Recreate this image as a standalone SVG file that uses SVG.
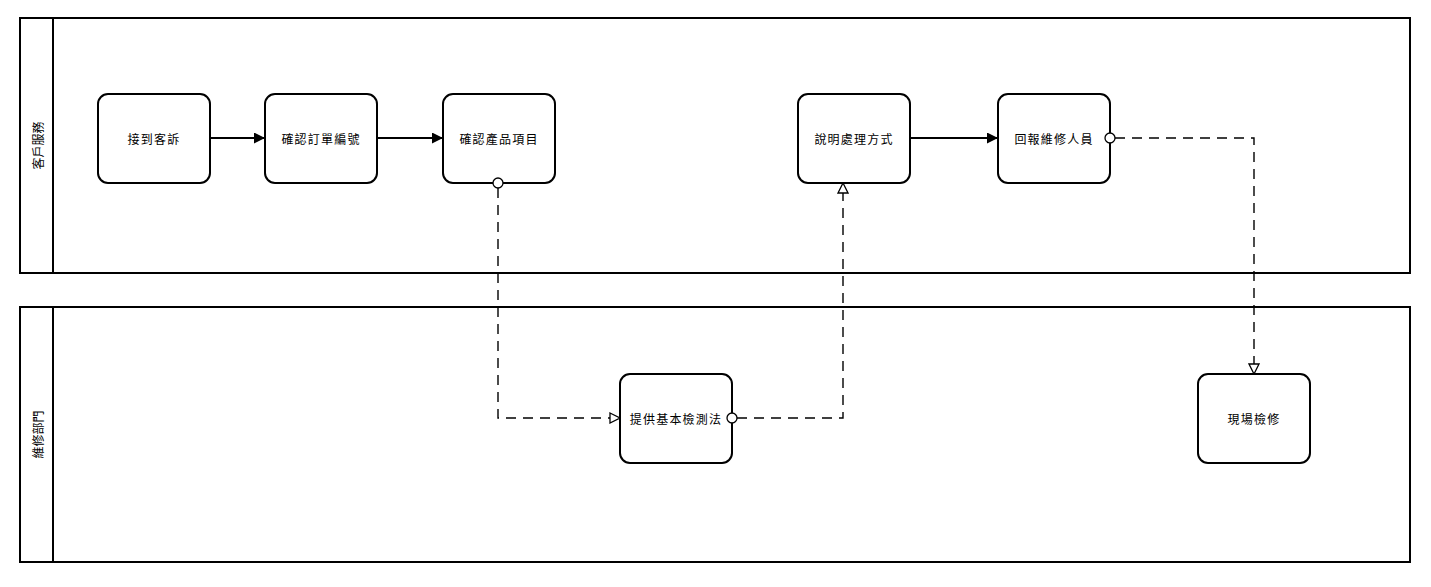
<svg xmlns="http://www.w3.org/2000/svg" width="1431" height="587" viewBox="0 0 1431 587">
<defs>
<style>
.pool{fill:#fff;stroke:#000;stroke-width:2}
.task{fill:#fff;stroke:#000;stroke-width:2}
.lbl{font-family:"Noto Sans CJK TC","Noto Sans CJK SC",sans-serif;font-size:12px;fill:#000;text-anchor:middle;dominant-baseline:central}
.tl{letter-spacing:1.2px}
.seq{fill:none;stroke:#000;stroke-width:2}
.msg{fill:none;stroke:#000;stroke-width:1.4;stroke-dasharray:10,7}
.dot{fill:#fff;stroke:#000;stroke-width:1.3}
</style>
<marker id="fill" viewBox="0 0 10 10" refX="10" refY="5" markerWidth="11" markerHeight="11" markerUnits="userSpaceOnUse" orient="auto">
<path d="M0,0 L10,5 L0,10 Z" fill="#000"/>
</marker>
<marker id="open" viewBox="0 0 12 12" refX="11" refY="6" markerWidth="12" markerHeight="12" markerUnits="userSpaceOnUse" orient="auto">
<path d="M1,1 L11,6 L1,11 Z" fill="#fff" stroke="#000" stroke-width="1.3"/>
</marker>
</defs>
<rect width="1431" height="587" fill="#fff"/>
<g id="pool-customer">
<rect class="pool" x="20" y="18" width="1390" height="255"/>
<line class="pool" x1="53" y1="18" x2="53" y2="273"/>
<text class="lbl" transform="translate(37,145.5) rotate(-90)">客戶服務</text>
</g>
<g id="pool-repair">
<rect class="pool" x="20" y="307" width="1390" height="255"/>
<line class="pool" x1="53" y1="307" x2="53" y2="562"/>
<text class="lbl" transform="translate(37,434.5) rotate(-90)">維修部門</text>
</g>
<g id="connectors">
<line class="seq" x1="210" y1="138" x2="265" y2="138" marker-end="url(#fill)"/>
<line class="seq" x1="377" y1="138" x2="443" y2="138" marker-end="url(#fill)"/>
<line class="seq" x1="910" y1="138" x2="998" y2="138" marker-end="url(#fill)"/>
<polyline class="msg" points="498,188 498,418 620,418" marker-end="url(#open)"/>
<polyline class="msg" points="737,418 843,418 843,183" marker-end="url(#open)"/>
<polyline class="msg" points="1115,138 1254,138 1254,374" marker-end="url(#open)"/>
</g>
<g id="task-receive">
<rect class="task" x="98" y="94" width="112" height="89" rx="10"/>
<text class="lbl tl" x="154" y="138.5">接到客訴</text>
</g>
<g id="task-order">
<rect class="task" x="265" y="94" width="112" height="89" rx="10"/>
<text class="lbl tl" x="321" y="138.5">確認訂單編號</text>
</g>
<g id="task-product">
<rect class="task" x="443" y="94" width="112" height="89" rx="10"/>
<text class="lbl tl" x="499" y="138.5">確認產品項目</text>
</g>
<g id="task-explain">
<rect class="task" x="798" y="94" width="112" height="89" rx="10"/>
<text class="lbl tl" x="854" y="138.5">說明處理方式</text>
</g>
<g id="task-report">
<rect class="task" x="998" y="94" width="112" height="89" rx="10"/>
<text class="lbl tl" x="1054" y="138.5">回報維修人員</text>
</g>
<g id="task-test">
<rect class="task" x="620" y="374" width="112" height="89" rx="10"/>
<text class="lbl tl" x="676" y="418.5">提供基本檢測法</text>
</g>
<g id="task-onsite">
<rect class="task" x="1198" y="374" width="112" height="89" rx="10"/>
<text class="lbl tl" x="1254" y="418.5">現場檢修</text>
</g>
<g id="dots">
<circle class="dot" cx="498" cy="183" r="5"/>
<circle class="dot" cx="732" cy="418" r="5"/>
<circle class="dot" cx="1110" cy="138" r="5"/>
</g>
</svg>
